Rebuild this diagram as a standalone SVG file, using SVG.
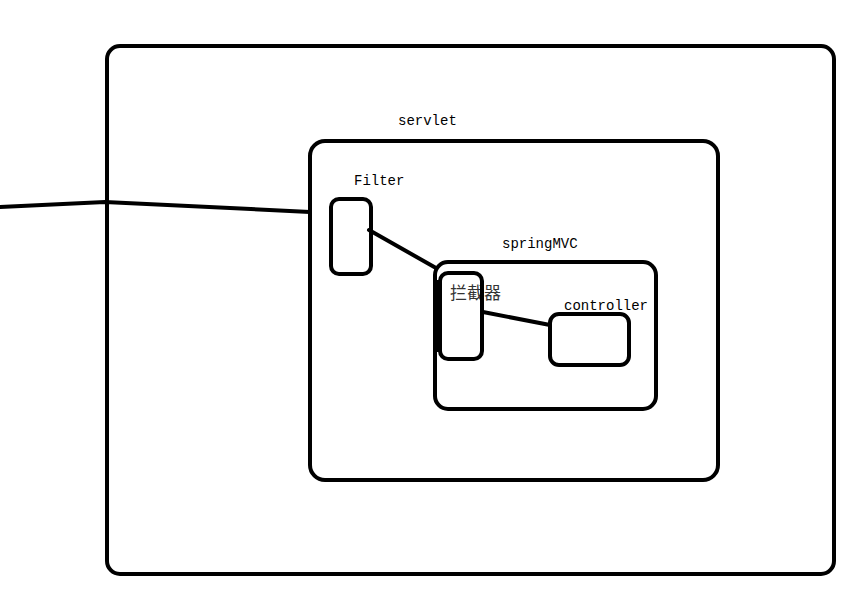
<svg xmlns="http://www.w3.org/2000/svg" width="867" height="602" viewBox="0 0 867 602">
  <style>
    .box { fill: none; stroke: #000; stroke-width: 4; }
    .wire { fill: none; stroke: #000; stroke-width: 4; stroke-linecap: round; stroke-linejoin: round; }
    .lbl { font-family: "Liberation Mono", "DejaVu Sans Mono", monospace; font-size: 14px; fill: #000; }
    .cjk { font-family: "Noto Sans CJK SC", sans-serif; font-size: 17px; fill: #333; }
  </style>
  <rect width="867" height="602" fill="#fff"/>

  <!-- outer container -->
  <g id="container">
    <rect class="box" x="107" y="46" width="727" height="528" rx="13"/>
  </g>

  <!-- servlet container -->
  <g id="servlet">
    <text class="lbl" x="398" y="125">servlet</text>
    <rect class="box" x="310" y="141" width="408" height="339" rx="15"/>
  </g>

  <!-- Filter -->
  <g id="filter">
    <text class="lbl" x="354" y="185">Filter</text>
    <rect class="box" x="331" y="199" width="40" height="75" rx="8"/>
  </g>

  <!-- springMVC container -->
  <g id="springmvc">
    <text class="lbl" x="502" y="248">springMVC</text>
    <rect class="box" x="435" y="262" width="221" height="147" rx="13"/>
  </g>

  <!-- interceptor -->
  <g id="interceptor">
    <text class="cjk" x="450" y="299">拦截器</text>
    <rect class="box" x="440" y="273" width="42" height="86" rx="8"/>
    <line x1="438" y1="280" x2="438" y2="352" stroke="#000" stroke-width="4"/>
  </g>

  <!-- controller -->
  <g id="controller">
    <text class="lbl" x="564" y="310">controller</text>
    <rect class="box" x="550" y="314" width="79" height="51" rx="9"/>
  </g>

  <!-- connectors -->
  <g id="connectors">
    <polyline class="wire" points="0,207 105,202 310,212"/>
    <line class="wire" x1="369" y1="230" x2="436" y2="268"/>
    <line class="wire" x1="483" y1="312" x2="550" y2="325"/>
  </g>
</svg>
